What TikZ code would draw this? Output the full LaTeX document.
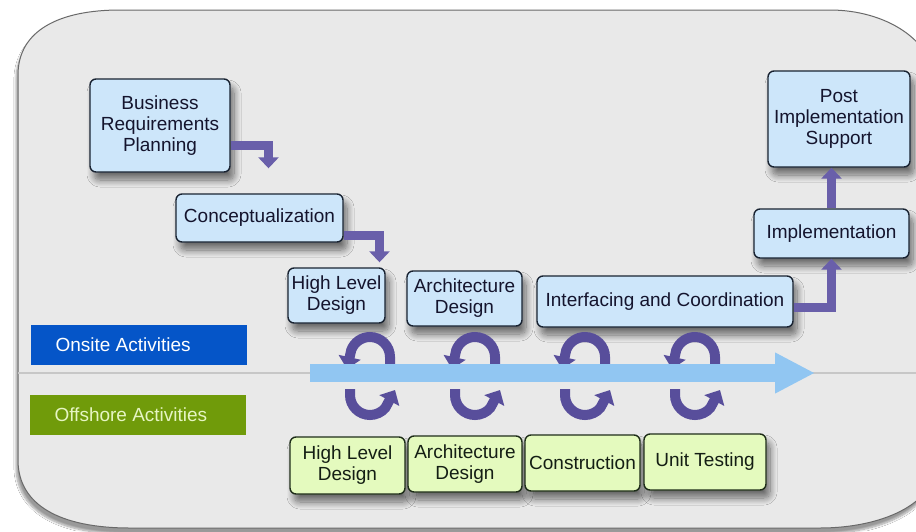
\documentclass[tikz,border=0pt]{standalone}
\usepackage{fontspec}
\setmainfont{Liberation Sans}
\usetikzlibrary{arrows.meta,shadows.blur}
\definecolor{panelfill}{RGB}{233,233,233}
\definecolor{panelline}{RGB}{105,105,105}
\definecolor{onfill}{RGB}{205,230,250}
\definecolor{boxline}{RGB}{25,35,50}
\definecolor{boxtext}{RGB}{20,20,45}
\definecolor{offfill}{RGB}{228,250,190}
\definecolor{offline}{RGB}{30,45,25}
\definecolor{offtext}{RGB}{20,30,20}
\definecolor{onsitecol}{RGB}{5,85,200}
\definecolor{offshorecol}{RGB}{112,155,10}
\definecolor{offshoretext}{RGB}{230,245,195}
\definecolor{flowcol}{RGB}{105,95,170}
\definecolor{turncol}{RGB}{88,78,155}
\definecolor{timecol}{RGB}{145,198,242}

\begin{document}
\begin{tikzpicture}[x=1pt,y=1pt,
  every node/.style={font=\fontsize{19}{21}\selectfont},
  onbox/.style={draw=boxline,line width=1.4pt,fill=onfill,rounded corners=6pt,align=center,inner sep=1pt,text=boxtext,
    blur shadow={shadow xshift=4pt,shadow yshift=-8pt,shadow blur steps=12,shadow blur radius=7pt,shadow opacity=55}},
  offbox/.style={onbox,draw=offline,fill=offfill,text=offtext},
  sidelabel/.style={minimum height=40pt,text width=166pt,inner xsep=25pt,align=flush left},
  flow/.style={line width=9pt,draw=flowcol,-{Triangle[width=20pt,length=11pt]}},
  turn/.style={line width=10pt,draw=turncol,-{Triangle[width=22pt,length=12pt]}},
  timeline/.style={line width=18pt,draw=timecol,-{Triangle[width=38pt,length=40pt]}}]
  \useasboundingbox (0,0) rectangle (916,-531);
  \fill[white] (0,0) rectangle (916,-531);
  \draw[panelline,fill=panelfill,line width=1pt,blur shadow={shadow xshift=-2pt,shadow yshift=-6pt,shadow blur steps=10,shadow opacity=40}]
    (18,-75) .. controls (18,-30) and (60,-10) .. (120,-10) -- (830,-10)
    .. controls (885,-10) and (935,-40) .. (935,-85) -- (935,-465)
    .. controls (935,-505) and (880,-528) .. (820,-528) -- (130,-528)
    .. controls (60,-528) and (18,-505) .. (18,-460) -- cycle;
  \draw[black!22,line width=1.2pt] (18,-373) -- (916,-373);

  \node[sidelabel,fill=onsitecol,text=white] (onsite) at (138.5,-345) {Onsite Activities};
  \node[sidelabel,fill=offshorecol,text=offshoretext] (offshore) at (137.5,-415) {Offshore Activities};

  \node[onbox,minimum width=140pt,minimum height=93pt] (brp) at (160,-125.5) {Business\\Requirements\\Planning};
  \node[onbox,minimum width=167pt,minimum height=48pt] (concept) at (259.5,-218) {Conceptualization};
  \node[onbox,minimum width=97pt,minimum height=55pt] (hldon) at (336.5,-295.5) {High Level\\Design};
  \node[onbox,minimum width=115pt,minimum height=55pt] (archon) at (464.5,-298.5) {Architecture\\Design};
  \node[onbox,minimum width=256pt,minimum height=51pt] (inter) at (665,-301.5) {Interfacing and Coordination};
  \node[onbox,minimum width=155pt,minimum height=49pt] (impl) at (831.5,-233.5) {Implementation};
  \node[onbox,minimum width=142pt,minimum height=96pt] (post) at (839,-119) {Post\\Implementation\\Support};

  \node[offbox,minimum width=115pt,minimum height=57pt] (hldoff) at (347.5,-465.5) {High Level\\Design};
  \node[offbox,minimum width=114pt,minimum height=56pt] (archoff) at (465,-464) {Architecture\\Design};
  \node[offbox,minimum width=115pt,minimum height=56pt] (constr) at (582.5,-463) {Construction};
  \node[offbox,minimum width=122pt,minimum height=56pt] (unit) at (705,-462) {Unit Testing};

  \draw[flow] ([yshift=-20pt]brp.east) -| ([xshift=9pt,yshift=25pt]concept.north);
  \draw[flow] ([yshift=-17pt]concept.east) -| ([xshift=43pt,yshift=5pt]hldon.north);
  \draw[flow] ([yshift=-6pt]inter.east) -| (impl.south);
  \draw[flow] (impl.north) -- (impl.north |- post.south);

  \foreach \x in {370,475,585,695}{
    \draw[turn] (\x+20,-369) -- (\x+20,-357) arc[start angle=0,end angle=160,radius=20] -- (\x-23,-369);
    \draw[turn] (\x-20,-389) -- (\x-20,-395) arc[start angle=180,end angle=320,radius=20] -- (\x+25,-390);
  }
  \draw[timeline] (310,-373) -- (815,-373);
\end{tikzpicture}
\end{document}
